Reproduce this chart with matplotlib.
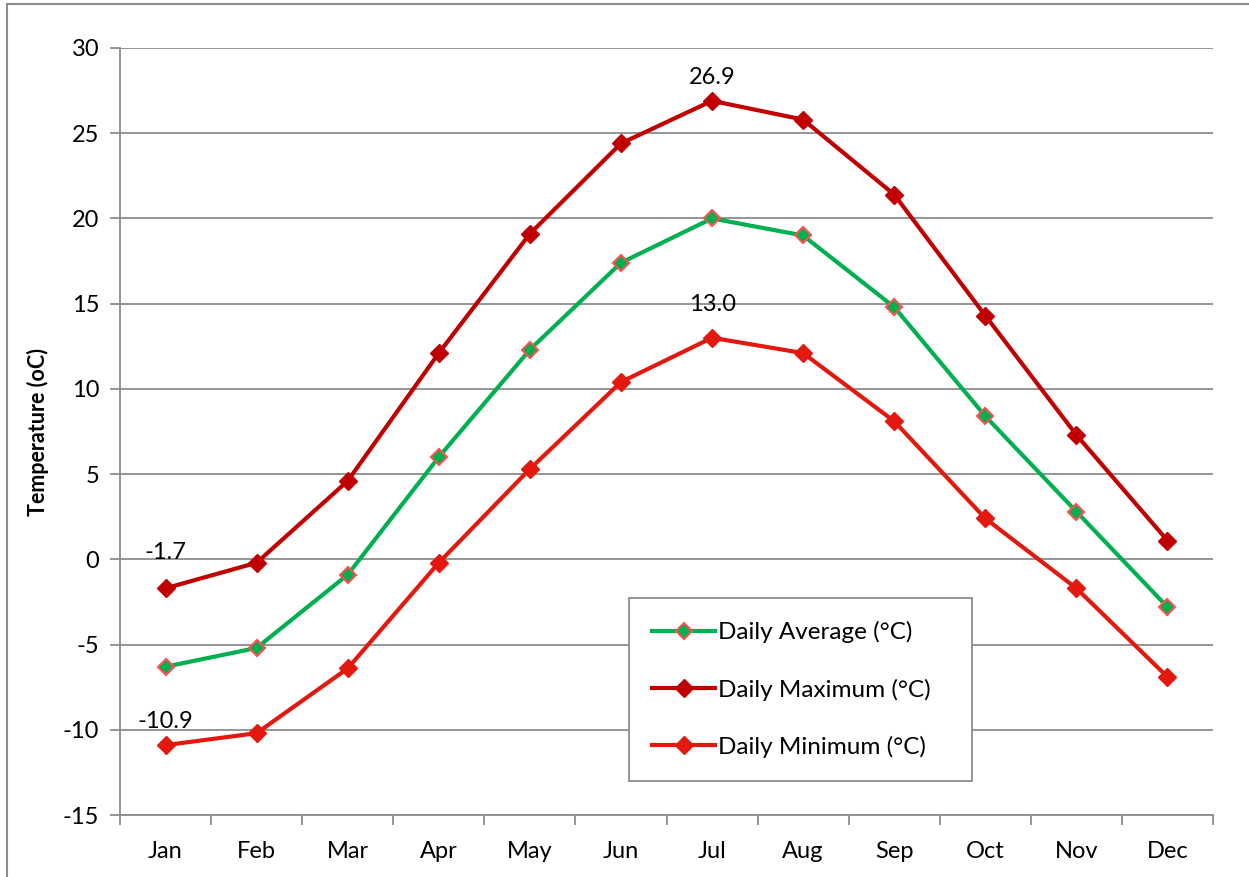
import matplotlib
matplotlib.use("Agg")
import matplotlib.pyplot as plt
from matplotlib.patches import Rectangle

plt.rcParams['font.family'] = ['Lato', 'DejaVu Sans']

months = ["Jan", "Feb", "Mar", "Apr", "May", "Jun", "Jul", "Aug", "Sep", "Oct", "Nov", "Dec"]
daily_avg = [-6.3, -5.2, -0.9, 6.0, 12.3, 17.4, 20.0, 19.0, 14.8, 8.4, 2.8, -2.8]
daily_max = [-1.7, -0.2, 4.6, 12.1, 19.1, 24.4, 26.9, 25.8, 21.4, 14.3, 7.3, 1.1]
daily_min = [-10.9, -10.2, -6.4, -0.2, 5.3, 10.4, 13.0, 12.1, 8.1, 2.4, -1.7, -6.9]
yticks = [-15, -10, -5, 0, 5, 10, 15, 20, 25, 30]

W, H = 1249, 877
fig = plt.figure(figsize=(W / 100, H / 100), dpi=100)
ax = fig.add_axes([120 / W, 1 - 815 / H, (1213 - 120) / W, (815 - 48) / H])

x = list(range(len(months)))
grey = "#8c8c8c"
fs = 17

ax.plot(x, daily_avg, color="#00B050", lw=3, marker="D", ms=8.5,
        mfc="#00B050", mec="#FF4F4F", mew=1.5, label="Daily Average (°C)", zorder=3)
ax.plot(x, daily_max, color="#C00000", lw=3, marker="D", ms=9,
        mfc="#C00000", mec="#C00000", label="Daily Maximum (°C)", zorder=3)
ax.plot(x, daily_min, color="#E3190F", lw=3, marker="D", ms=9,
        mfc="#E3190F", mec="#E3190F", label="Daily Minimum (°C)", zorder=3)

ax.set_xlim(-0.5, 11.5)
ax.set_ylim(-15, 30)
ax.set_yticks(yticks)
ax.set_yticklabels([str(v) for v in yticks])
ax.yaxis.grid(True, color=grey, lw=1.3)
ax.set_axisbelow(True)

ax.set_xticks(x)
ax.set_xticklabels(months)
ax.set_xticks([i - 0.5 for i in range(13)], minor=True)
ax.tick_params(axis='x', which='major', length=0, pad=19, labelsize=fs)
ax.tick_params(axis='x', which='minor', length=7, width=1.3, color=grey)
ax.tick_params(axis='y', length=7, width=1.3, color=grey, pad=8, labelsize=fs)

for s in ["top", "right"]:
    ax.spines[s].set_visible(False)
for s in ["left", "bottom"]:
    ax.spines[s].set_color(grey)
    ax.spines[s].set_linewidth(1.3)

ax.set_ylabel("Temperature (oC)", fontsize=15.5, fontweight="bold", labelpad=10)

labels = [(0, daily_max[0], 26), (0, daily_min[0], 17), (6, daily_max[6], 17), (6, daily_min[6], 24)]
for xi, yi, off in labels:
    ax.annotate(f"{yi:.1f}", (xi, yi), xytext=(0, off), textcoords="offset points",
                ha="center", va="center", fontsize=fs)

leg = ax.legend(loc="lower left", bbox_to_anchor=((629 - 120) / (1213 - 120), (815 - 781) / (815 - 48),
                (972 - 629) / (1213 - 120), (781 - 603) / (815 - 48)),
                mode="expand", fontsize=17.5, frameon=True, fancybox=False,
                edgecolor=grey, framealpha=1, labelspacing=1.45, handlelength=2.6,
                handletextpad=0.1, borderpad=0.95, borderaxespad=0)
leg.get_frame().set_linewidth(1.3)

fig.patches.append(Rectangle((7 / W, -0.1), 1.2, (1 - 4 / H) + 0.1, transform=fig.transFigure,
                             fill=False, edgecolor=grey, lw=1.5))

fig.savefig("out.png", dpi=100)
